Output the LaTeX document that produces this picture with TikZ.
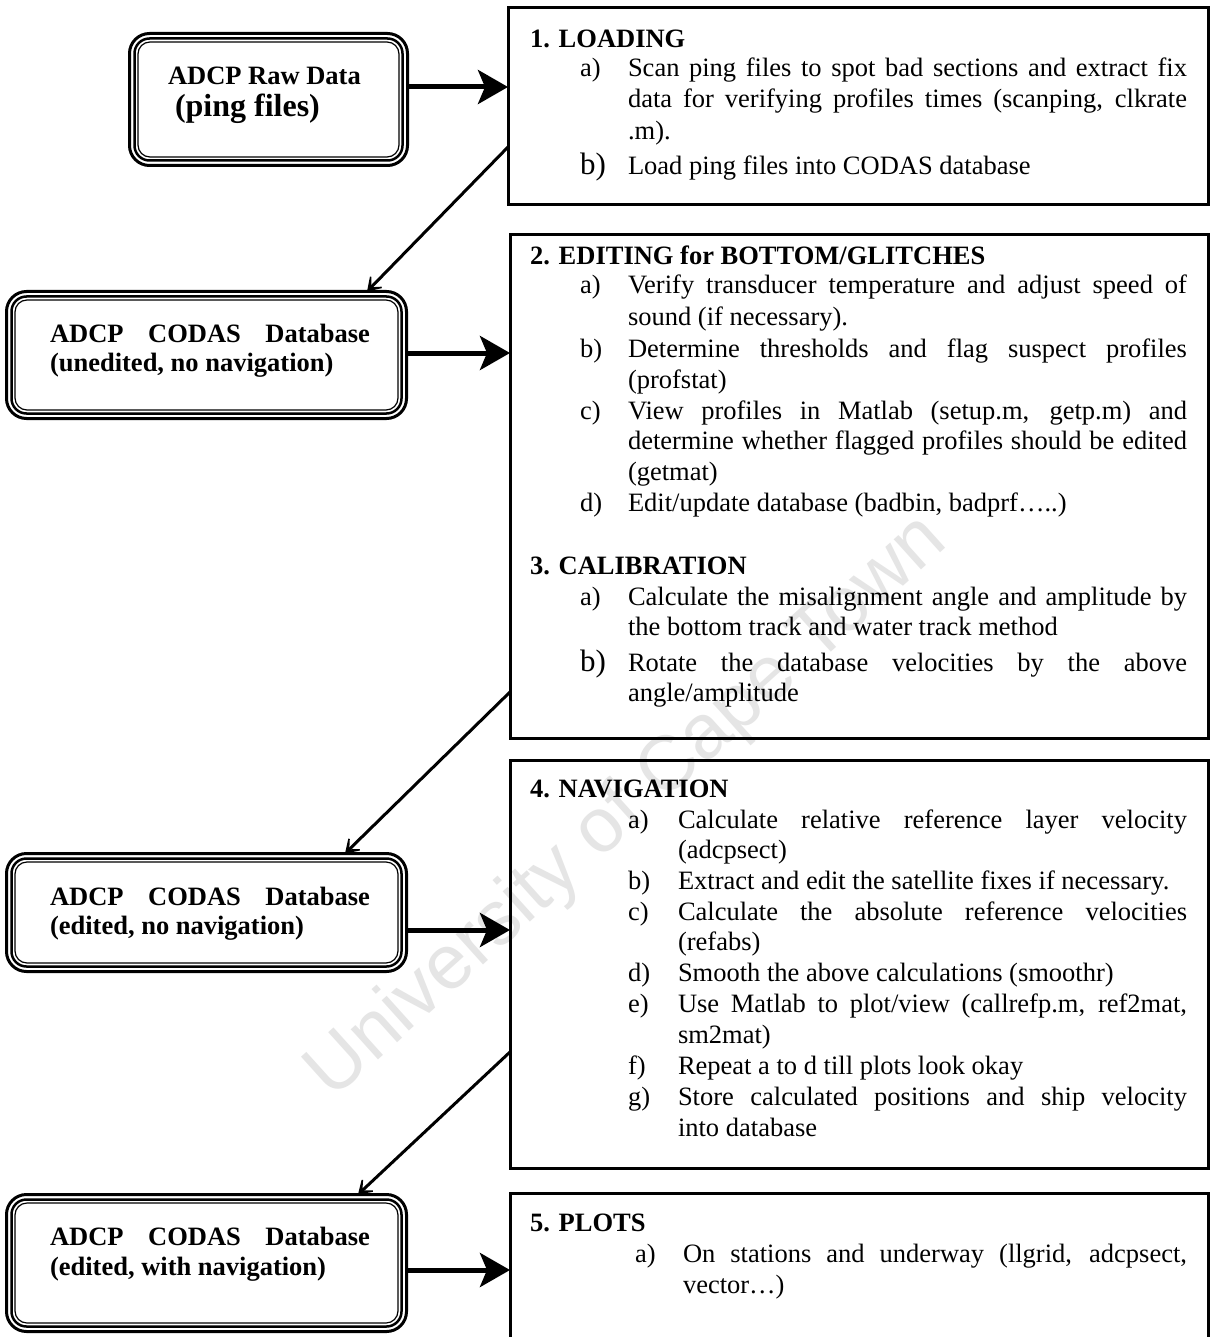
\documentclass[tikz,border=0pt]{standalone}
\usepackage{fontspec}
\setmainfont{Liberation Serif}
\newfontfamily\wmfont{Liberation Sans}
\usetikzlibrary{arrows.meta}
\newcommand{\jb}[2]{\makebox[#1pt][s]{#2}}
\newcommand{\innerlines}[1]{%
  \draw[line width=2.5pt, rounded corners=15pt] ([xshift=5pt,yshift=5pt]#1.south west) rectangle ([xshift=-5pt,yshift=-5pt]#1.north east);
  \draw[line width=1.2pt, rounded corners=12pt] ([xshift=8.5pt,yshift=8.5pt]#1.south west) rectangle ([xshift=-8.5pt,yshift=-8.5pt]#1.north east);}
\begin{document}
\begin{tikzpicture}[x=1pt,y=-1pt,
  leftbox/.style={draw, line width=3pt, rounded corners=20pt, inner sep=0, outer sep=0},
  rightbox/.style={draw, line width=3pt, inner sep=0, outer sep=0},
  txt/.style={anchor=base west, inner sep=0, outer sep=0, font=\fontsize{26.5}{31}\selectfont},
  btxt/.style={anchor=base west, inner sep=0, outer sep=0, font=\fontsize{26.5}{31}\selectfont\bfseries},
  bigl/.style={anchor=base west, inner sep=0, outer sep=0, font=\fontsize{31}{34}\selectfont},
  hv/.style={line width=5pt, -{Stealth[length=30pt,width=34pt,inset=7pt]}},
  dg/.style={line width=3pt, -{Stealth[length=20pt,width=26pt,inset=14pt]}},
]
\useasboundingbox (0,0) rectangle (1211,1337);
\fill[white] (0,0) rectangle (1211,1337);
\clip (0,0) rectangle (1211,1337);

% watermark
\node[rotate=42, text=black!10, inner sep=0, font=\wmfont\fontsize{77}{77}\selectfont] (wm) at (628,808) {University of Cape Town};

% left boxes
\node[leftbox, minimum width=278pt, minimum height=132pt] (raw) at (268.5,99.5) {};
\node[leftbox, minimum width=400pt, minimum height=127pt] (uned) at (206.5,355) {};
\node[leftbox, minimum width=400pt, minimum height=118pt] (ednn) at (206.5,912.5) {};
\node[leftbox, minimum width=400pt, minimum height=137pt] (edwn) at (206.5,1263) {};
\innerlines{raw}
\innerlines{uned}
\innerlines{ednn}
\innerlines{edwn}

\node[btxt] (rawa) at (168,85) {ADCP Raw Data};
\node[btxt, font=\fontsize{32}{36}\selectfont\bfseries] (rawb) at (175,117) {(ping files)};
\node[btxt] (uneda) at (50,342) {\jb{320}{ADCP CODAS Database}};
\node[btxt] (unedb) at (50,371) {(unedited, no navigation)};
\node[btxt] (ednna) at (50,905) {\jb{320}{ADCP CODAS Database}};
\node[btxt] (ednnb) at (50,934) {(edited, no navigation)};
\node[btxt] (edwna) at (50,1245) {\jb{320}{ADCP CODAS Database}};
\node[btxt] (edwnb) at (50,1275) {(edited, with navigation)};

% right boxes
\node[rightbox, minimum width=700pt, minimum height=197pt] (load) at (858,106.5) {};
\node[rightbox, minimum width=698pt, minimum height=503pt] (edit) at (859,486.5) {};
\node[rightbox, minimum width=698pt, minimum height=408pt] (nav) at (859,964) {};
\node[rightbox, minimum width=698pt, minimum height=167pt] (plot) at (859,1276.5) {};

% box 1 text
\node[btxt] (h1) at (530,48) {1. LOADING};
\node[txt] (l1al) at (580,77) {a)};
\node[txt] (l1a1) at (628,77) {\jb{559}{Scan ping files to spot bad sections and extract fix}};
\node[txt] (l1a2) at (628,108) {\jb{559}{data for verifying profiles times (scanping, clkrate}};
\node[txt] (l1a3) at (628,140) {.m).};
\node[bigl] (l1bl) at (580,175) {b)};
\node[txt] (l1b1) at (628,175) {Load ping files into CODAS database};

% box 2 text
\node[btxt] (h2) at (530,265) {2. EDITING for BOTTOM/GLITCHES};
\node[txt] (l2al) at (580,294) {a)};
\node[txt] (l2a1) at (628,294) {\jb{559}{Verify transducer temperature and adjust speed of}};
\node[txt] (l2a2) at (628,325) {sound (if necessary).};
\node[txt] (l2bl) at (580,357) {b)};
\node[txt] (l2b1) at (628,357) {\jb{559}{Determine thresholds and flag suspect profiles}};
\node[txt] (l2b2) at (628,388) {(profstat)};
\node[txt] (l2cl) at (580,419) {c)};
\node[txt] (l2c1) at (628,419) {\jb{559}{View profiles in Matlab (setup.m, getp.m) and}};
\node[txt] (l2c2) at (628,449) {\jb{559}{determine whether flagged profiles should be edited}};
\node[txt] (l2c3) at (628,480) {(getmat)};
\node[txt] (l2dl) at (580,511) {d)};
\node[txt] (l2d1) at (628,511) {Edit/update database (badbin, badprf…..)};
\node[btxt] (h3) at (530,574) {3. CALIBRATION};
\node[txt] (l3al) at (580,605) {a)};
\node[txt] (l3a1) at (628,605) {\jb{559}{Calculate the misalignment angle and amplitude by}};
\node[txt] (l3a2) at (628,635) {the bottom track and water track method};
\node[bigl] (l3bl) at (580,671) {b)};
\node[txt] (l3b1) at (628,671) {\jb{559}{Rotate the database velocities by the above}};
\node[txt] (l3b2) at (628,701) {angle/amplitude};

% box 3 text
\node[btxt] (h4) at (530,797) {4. NAVIGATION};
\node[txt] (l4al) at (628,828) {a)};
\node[txt] (l4a1) at (678,828) {\jb{509}{Calculate relative reference layer velocity}};
\node[txt] (l4a2) at (678,858) {(adcpsect)};
\node[txt] (l4bl) at (628,889) {b)};
\node[txt] (l4b1) at (678,889) {Extract and edit the satellite fixes if necessary.};
\node[txt] (l4cl) at (628,920) {c)};
\node[txt] (l4c1) at (678,920) {\jb{509}{Calculate the absolute reference velocities}};
\node[txt] (l4c2) at (678,950) {(refabs)};
\node[txt] (l4dl) at (628,981) {d)};
\node[txt] (l4d1) at (678,981) {Smooth the above calculations (smoothr)};
\node[txt] (l4el) at (628,1012) {e)};
\node[txt] (l4e1) at (678,1012) {\jb{509}{Use Matlab to plot/view (callrefp.m, ref2mat,}};
\node[txt] (l4e2) at (678,1043) {sm2mat)};
\node[txt] (l4fl) at (628,1074) {f)};
\node[txt] (l4f1) at (678,1074) {Repeat a to d till plots look okay};
\node[txt] (l4gl) at (628,1105) {g)};
\node[txt] (l4g1) at (678,1105) {\jb{509}{Store calculated positions and ship velocity}};
\node[txt] (l4g2) at (678,1136) {into database};

% box 4 text
\node[btxt] (h5) at (530,1231) {5. PLOTS};
\node[txt] (l5al) at (635,1262) {a)};
\node[txt] (l5a1) at (683,1262) {\jb{504}{On stations and underway (llgrid, adcpsect,}};
\node[txt] (l5a2) at (683,1293) {vector…)};

% horizontal arrows
\coordinate (s1) at ([yshift=12.5pt]raw.east);
\coordinate (s2) at ([yshift=2pt]uned.east);
\coordinate (s3) at ([yshift=-17.5pt]ednn.east);
\coordinate (s4) at ([yshift=-7pt]edwn.east);
\draw[hv] (s1) -- (s1 -| load.west);
\draw[hv] (s2) -- (s2 -| edit.west);
\draw[hv] (s3) -- (s3 -| nav.west);
\draw[hv] (s4) -- (s4 -| plot.west);

% diagonal arrows
\coordinate (d1s) at ([yshift=-40.5pt]load.west);
\coordinate (d1e) at ([xshift=160.5pt]uned.north);
\coordinate (d2s) at ([yshift=-205.5pt]edit.west);
\coordinate (d2e) at ([xshift=138.5pt]ednn.north);
\coordinate (d3s) at ([yshift=-88pt]nav.west);
\coordinate (d3e) at ([xshift=151.5pt]edwn.north);
\draw[dg] (d1s) -- (d1e);
\draw[dg] (d2s) -- (d2e);
\draw[dg] (d3s) -- (d3e);
\end{tikzpicture}
\end{document}
